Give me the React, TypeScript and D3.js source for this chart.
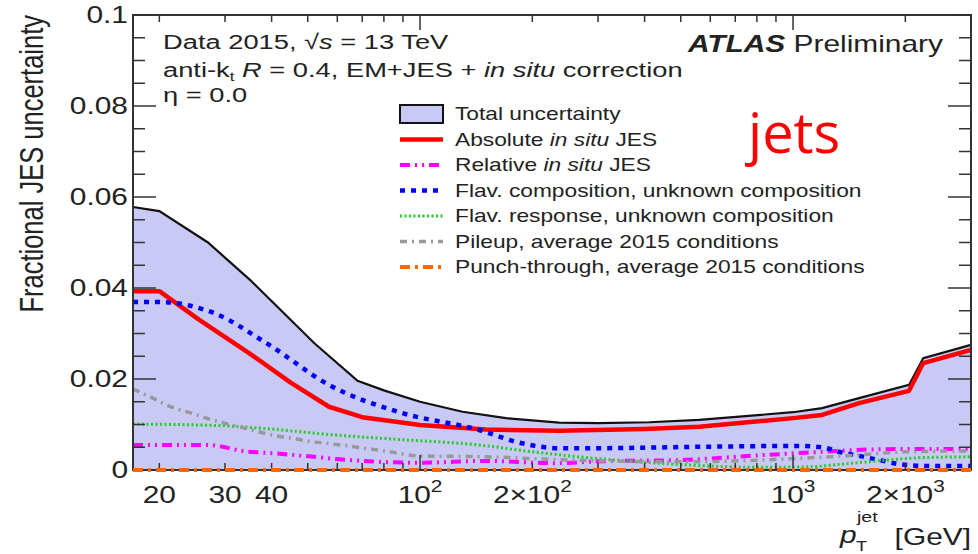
import React from "react";
import * as d3 from "d3";

// ---------------- data ----------------
const pTTotal = [17, 20, 27, 35, 52, 68, 80, 100, 130, 170, 236, 300, 412, 560, 1000, 1197, 1503, 2046, 2234, 3000];
const valTotal = [0.0578, 0.0569, 0.050, 0.0418, 0.0279, 0.0196, 0.0175, 0.0150, 0.0128, 0.0114, 0.0104, 0.0103, 0.0105, 0.0110, 0.0127, 0.0136, 0.0158, 0.0187, 0.0246, 0.0275];

const pTAbs = [17, 20, 25.6, 34.8, 45, 57, 70, 100, 150, 236, 400, 560, 1000, 1197, 1503, 2046, 2234, 3000];
const valAbs = [0.0393, 0.0393, 0.0330, 0.0257, 0.0192, 0.0139, 0.0116, 0.0099, 0.0089, 0.0086, 0.0090, 0.0095, 0.0114, 0.0121, 0.0147, 0.0174, 0.0235, 0.0264];

const pTRel = [17, 27, 34, 40, 52, 60, 100, 150, 230, 300, 500, 800, 1200, 1600, 2000, 3000];
const valRel = [0.0055, 0.0055, 0.0041, 0.0037, 0.0029, 0.0024, 0.0016, 0.0020, 0.0015, 0.0019, 0.0022, 0.0032, 0.0040, 0.0045, 0.0046, 0.0046];

const pTComp = [17, 20, 28, 39.4, 57, 88, 144, 185, 236, 302, 560, 1037, 1197, 1327, 1503, 1701, 1923, 2243, 3000];
const valComp = [0.0369, 0.0369, 0.0345, 0.0275, 0.0187, 0.0127, 0.0088, 0.0060, 0.0048, 0.0048, 0.0051, 0.0053, 0.0050, 0.0040, 0.0031, 0.0022, 0.0013, 0.0009, 0.0009];

const pTResp = [17, 28, 40, 57, 88, 144, 200, 300, 500, 800, 1100, 1400, 1800, 2200, 3000];
const valResp = [0.0101, 0.0098, 0.0090, 0.0078, 0.0067, 0.0055, 0.0040, 0.0025, 0.0012, 0.0006, 0.0007, 0.0014, 0.0022, 0.0027, 0.0029];

const pTPile = [17, 19.2, 21.6, 24.4, 27.7, 31.3, 35.4, 40, 45.4, 51.3, 57, 80, 100, 150, 250, 500, 1000, 1500, 2000, 3000];
const valPile = [0.0178, 0.0158, 0.0138, 0.0125, 0.0110, 0.0099, 0.0088, 0.0077, 0.0070, 0.0062, 0.0058, 0.0042, 0.0031, 0.0029, 0.0022, 0.0018, 0.0025, 0.0033, 0.0040, 0.0042];

const pTPunch = [17, 3000];
const valPunch = [0, 0];

const yTickValues = [0, 0.02, 0.04, 0.06, 0.08, 0.1];
const yTickLabels = ["0", "0.02", "0.04", "0.06", "0.08", "0.1"];
const xLabelValues = [20, 30, 40, 100, 200, 1000, 2000];
const xLabelMain = ["20", "30", "40", "10", "2×10", "10", "2×10"];
const xLabelExp = ["", "", "", "2", "2", "3", "3"];
const xMajorTicks = [100, 1000];
const xMinorTicks = [20, 30, 40, 50, 60, 70, 80, 90, 200, 300, 400, 500, 600, 700, 800, 900, 2000, 3000];

const legendLabels = [
  ["Total uncertainty"],
  ["Absolute ", "in situ", " JES"],
  ["Relative ", "in situ", " JES"],
  ["Flav. composition, unknown composition"],
  ["Flav. response, unknown composition"],
  ["Pileup, average 2015 conditions"],
  ["Punch-through, average 2015 conditions"],
];

// ---------------- layout / style ----------------
const W = 978, H = 554;
const L = 133, R = 971, T = 15, B = 470;
const SX = 1.3;
const FONT = "'Liberation Sans', Arial, Helvetica, sans-serif";
const FILL = "#c9c9f6";
const AX = "#333";

type Style = { color: string; width: number; dash?: string };
const styles: Style[] = [
  { color: "#ff0000", width: 4.5 },
  { color: "#ff00ff", width: 4, dash: "10 5 2 5 2 5" },
  { color: "#0000ff", width: 4.5, dash: "5 6" },
  { color: "#22cc22", width: 3, dash: "2 2.5" },
  { color: "#999999", width: 3.5, dash: "7 5 2 5" },
  { color: "#ff6600", width: 4, dash: "10 5 3 5" },
];
const seriesX = [pTAbs, pTRel, pTComp, pTResp, pTPile, pTPunch];
const seriesY = [valAbs, valRel, valComp, valResp, valPile, valPunch];

function ST(props: any) {
  const { x, y, size, anchor = "start", children, ...rest } = props;
  return (
    <text
      transform={`translate(${x},${y}) scale(${SX},1)`}
      fontSize={size}
      textAnchor={anchor}
      fontFamily={FONT}
      fill="#222"
      {...rest}
    >
      {children}
    </text>
  );
}

export default function App() {
  const x = d3.scaleLog().domain([17, 3000]).range([L, R]);
  const y = d3.scaleLinear().domain([0, 0.1]).range([B, T]);

  const area = d3
    .area<number>()
    .x((_, i) => x(pTTotal[i]))
    .y0(() => y(0))
    .y1((d) => y(d));
  const totalLine = d3
    .line<number>()
    .x((_, i) => x(pTTotal[i]))
    .y((d) => y(d));

  const mkLine = (px: number[], smooth: boolean) =>
    d3
      .line<number>()
      .x((_, i) => x(px[i]))
      .y((d) => y(d))
      .curve(smooth ? d3.curveMonotoneX : d3.curveLinear);

  const yMinor = d3.range(0, 0.1001, 0.005);
  const rowY = (i: number) => 114 + i * 25.5;

  return (
    <svg
      width={W}
      height={H}
      style={{ position: "absolute", left: 0, top: 0, background: "#fff" }}
    >
      <defs>
        <clipPath id="plotclip">
          <rect x={L} y={T - 5} width={R - L} height={B - T + 12} />
        </clipPath>
      </defs>
      <rect x={0} y={0} width={W} height={H} fill="#fff" />

      {/* total uncertainty band */}
      <path d={area(valTotal) || ""} fill={FILL} />
      <path d={totalLine(valTotal) || ""} fill="none" stroke="#111" strokeWidth={2.2} />

      {/* components */}
      <g clipPath="url(#plotclip)">
        {seriesX.map((px, i) => (
          <path
            key={i}
            d={mkLine(px, i !== 0)(seriesY[i]) || ""}
            fill="none"
            stroke={styles[i].color}
            strokeWidth={styles[i].width}
            strokeDasharray={styles[i].dash}
            strokeLinejoin="round"
          />
        ))}
      </g>

      {/* frame */}
      <rect x={L} y={T} width={R - L} height={B - T} fill="none" stroke={AX} strokeWidth={2} />

      {/* y ticks */}
      {yMinor.map((v, i) => {
        const major = i % 4 === 0;
        const len = major ? 23 : 12;
        return (
          <g key={"yt" + i} stroke={AX} strokeWidth={1.5}>
            <line x1={L} x2={L + len} y1={y(v)} y2={y(v)} />
            <line x1={R} x2={R - len} y1={y(v)} y2={y(v)} />
          </g>
        );
      })}
      {yTickValues.map((v, i) => (
        <ST key={"yl" + i} x={128} y={y(v) + 8} size={23} anchor="end">
          {yTickLabels[i]}
        </ST>
      ))}

      {/* x ticks */}
      {xMinorTicks.map((v, i) => (
        <g key={"xm" + i} stroke={AX} strokeWidth={1.5}>
          <line x1={x(v)} x2={x(v)} y1={B} y2={B - 7} />
          <line x1={x(v)} x2={x(v)} y1={T} y2={T + 7} />
        </g>
      ))}
      {xMajorTicks.map((v, i) => (
        <g key={"xM" + i} stroke={AX} strokeWidth={1.5}>
          <line x1={x(v)} x2={x(v)} y1={B} y2={B - 15} />
          <line x1={x(v)} x2={x(v)} y1={T} y2={T + 15} />
        </g>
      ))}
      {xLabelValues.map((v, i) => (
        <ST key={"xl" + i} x={x(v)} y={503} size={23} anchor="middle">
          {xLabelMain[i]}
          {xLabelExp[i] && (
            <tspan fontSize={16} dy={-11}>
              {xLabelExp[i]}
            </tspan>
          )}
        </ST>
      ))}

      {/* punch-through on top of axis */}
      <path
        d={mkLine(pTPunch, false)(valPunch) || ""}
        fill="none"
        stroke={styles[5].color}
        strokeWidth={styles[5].width}
        strokeDasharray={styles[5].dash}
      />

      {/* axis titles */}
      <text
        transform={`translate(43,15) scale(${SX},1) rotate(-90)`}
        textAnchor="end"
        fontSize={25.5}
        fontFamily={FONT}
        fill="#222"
      >
        Fractional JES uncertainty
      </text>
      <ST x={971} y={545} size={23} anchor="end">[GeV]</ST>
      <ST x={840} y={543} size={23} fontStyle="italic">p</ST>
      <ST x={857} y={522} size={15}>jet</ST>
      <ST x={856} y={551} size={14}>T</ST>

      {/* header texts */}
      <ST x={163} y={49} size={21}>
        Data 2015, √<tspan fontStyle="italic">s</tspan> = 13 TeV
      </ST>
      <ST x={163} y={77} size={21}>
        anti-k<tspan fontSize={13} dy={4}>t</tspan>
        <tspan dy={-4}> </tspan>
        <tspan fontStyle="italic">R</tspan> = 0.4, EM+JES + <tspan fontStyle="italic">in situ</tspan> correction
      </ST>
      <ST x={163} y={102} size={21}>η = 0.0</ST>
      <ST x={943} y={52} size={23} anchor="end">
        <tspan fontWeight="bold" fontStyle="italic">ATLAS</tspan> Preliminary
      </ST>

      {/* legend */}
      <rect x={400} y={rowY(0) - 9} width={43} height={18} fill={FILL} stroke="#111" strokeWidth={2} />
      {styles.map((s, i) => (
        <line
          key={"lg" + i}
          x1={400}
          x2={443}
          y1={rowY(i + 1)}
          y2={rowY(i + 1)}
          stroke={s.color}
          strokeWidth={s.width}
          strokeDasharray={s.dash}
        />
      ))}
      {legendLabels.map((parts, i) => (
        <ST key={"ll" + i} x={455} y={rowY(i) + 6} size={17.5}>
          {parts.map((p, j) =>
            p === "in situ" ? (
              <tspan key={j} fontStyle="italic">{p}</tspan>
            ) : (
              <tspan key={j}>{p}</tspan>
            )
          )}
        </ST>
      ))}

      {/* overlay label */}
      <text x={748} y={153} fontSize={56} fill="#ff0000" fontFamily="'Open Sans', 'Noto Sans', sans-serif">
        jets
      </text>
    </svg>
  );
}
